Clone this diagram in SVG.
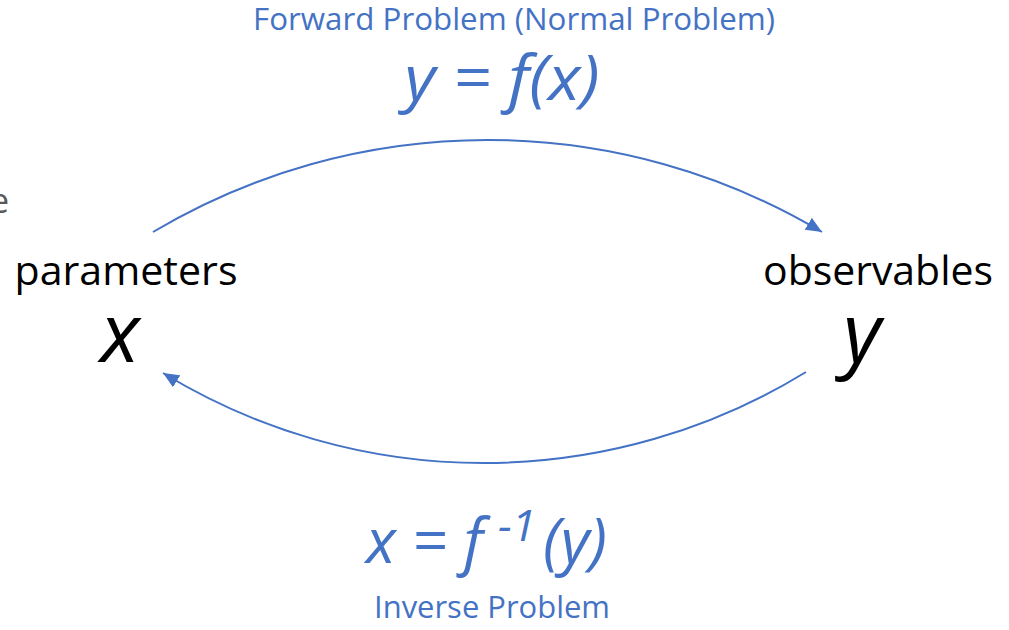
<svg xmlns="http://www.w3.org/2000/svg" width="1009" height="630" viewBox="0 0 1009 630">
<style>
text{font-family:"Open Sans","Noto Sans","Liberation Sans",sans-serif;}
.lbl{fill:#4472C4;font-size:31px;text-anchor:middle;}
.eq{fill:#4472C4;font-size:62px;font-style:italic;text-anchor:middle;}
.node{fill:#000;font-size:41px;text-anchor:middle;}
.var{fill:#000;font-size:82px;font-style:italic;text-anchor:middle;}
.conn{fill:none;stroke:#4472C4;stroke-width:2;}
</style>
<defs>
<marker id="arr" markerUnits="userSpaceOnUse" markerWidth="18" markerHeight="14" refX="16" refY="7" orient="auto">
<path d="M0,0 L16,7 L0,14 z" fill="#4472C4"/>
</marker>
</defs>
<text x="9" y="213" style="fill:#595959;font-size:34px;text-anchor:end;">e</text>
<g id="connectors">
<path class="conn" d="M153,232 A654,654 0 0 1 822,232" marker-end="url(#arr)"/>
<path class="conn" d="M806,372 A616,616 0 0 1 163,373" marker-end="url(#arr)"/>
</g>
<g id="forward-label">
<text class="lbl" x="514" y="30" textLength="522" lengthAdjust="spacingAndGlyphs">Forward Problem (Normal Problem)</text>
<text class="eq" x="502" y="100" textLength="195" lengthAdjust="spacingAndGlyphs">y = f(x)</text>
</g>
<g id="node-parameters">
<text class="node" x="126" y="285" textLength="223" lengthAdjust="spacingAndGlyphs">parameters</text>
<text class="var" x="120" y="362">x</text>
</g>
<g id="node-observables">
<text class="node" x="878" y="285" textLength="230" lengthAdjust="spacingAndGlyphs">observables</text>
<text class="var" x="862" y="362">y</text>
</g>
<g id="inverse-label">
<text class="eq" style="text-anchor:start" y="563"><tspan x="366">x = f</tspan><tspan x="498" dy="-22" font-size="44">-1</tspan><tspan x="543" dy="22">(y)</tspan></text>
<text class="lbl" x="492" y="618" textLength="236" lengthAdjust="spacingAndGlyphs">Inverse Problem</text>
</g>
</svg>
